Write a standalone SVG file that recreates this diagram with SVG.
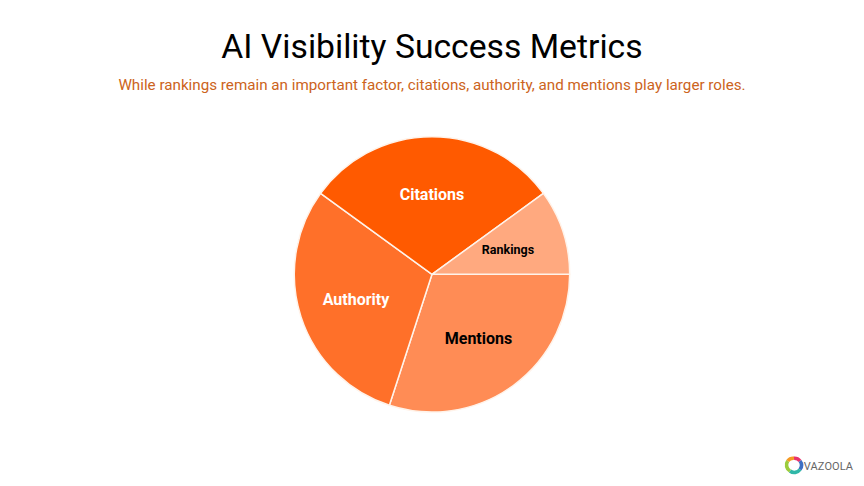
<svg xmlns="http://www.w3.org/2000/svg" width="864" height="486" viewBox="0 0 864 486">
<style>
text{font-family:Roboto,"Liberation Sans",sans-serif;text-anchor:middle}
.s{stroke:#fff3ea;stroke-width:1.5;stroke-linejoin:round}
.l{font-weight:700;font-size:16px}
.r{fill:none;stroke-width:3.6}
</style>
<rect width="864" height="486" fill="#fff"/>
<g id="title">
<text x="432" y="58" font-size="33.7" fill="#000">AI Visibility Success Metrics</text>
<text x="432" y="89.500" font-size="15.2" fill="#cc6320">While rankings remain an important factor, citations, authority, and mentions play larger roles.</text>
</g>
<g id="mentions"><path class="s" fill="#ff8c55" d="M432 274.300H569.700A137.700 137.700 0 0 1 389.400 405.300Z"/><text class="l" x="478.500" y="344" fill="#000">Mentions</text></g>
<g id="authority"><path class="s" fill="#ff7029" d="M432 274.300L389.400 405.300A137.700 137.700 0 0 1 320.600 193.400Z"/><text class="l" x="356" y="304.500" fill="#fff">Authority</text></g>
<g id="citations"><path class="s" fill="#ff5a00" d="M432 274.300L320.600 193.400A137.700 137.700 0 0 1 543.400 193.400Z"/><text class="l" x="432" y="199.500" fill="#fff">Citations</text></g>
<g id="rankings"><path class="s" fill="#ffa97f" d="M432 274.300L543.400 193.400A137.700 137.700 0 0 1 569.700 274.300Z"/><text x="508" y="254" font-size="12.500" font-weight="700" fill="#000">Rankings</text></g>
<g id="logo">
<path class="r" stroke="#f59a23" d="M787.700 461A7 7 0 0 1 794 458.300"/>
<path class="r" stroke="#e8336d" d="M794 458.300A7 7 0 0 1 800 461"/>
<path class="r" stroke="#3d6fc4" d="M800 461A7 7 0 0 1 800 469.500"/>
<path class="r" stroke="#2fb7a8" d="M800 469.500A7 7 0 0 1 790 471"/>
<path class="r" stroke="#9ccc3c" d="M790 471A7 7 0 0 1 787.700 461"/>
<text x="828.500" y="469.500" font-size="11" fill="#666" letter-spacing=".1">VAZOOLA</text>
</g>
</svg>
